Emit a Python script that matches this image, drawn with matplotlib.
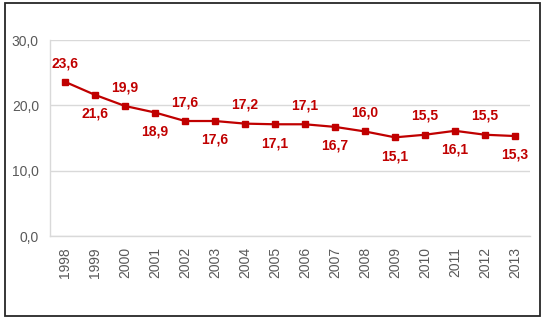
import matplotlib
matplotlib.use('Agg')
import matplotlib.pyplot as plt
from matplotlib.patches import Rectangle

years = ['1998', '1999', '2000', '2001', '2002', '2003', '2004', '2005',
         '2006', '2007', '2008', '2009', '2010', '2011', '2012', '2013']
values = [23.6, 21.6, 19.9, 18.9, 17.6, 17.6, 17.2, 17.1,
          17.1, 16.7, 16.0, 15.1, 15.5, 16.1, 15.5, 15.3]
y_ticks = [0, 10, 20, 30]

RED = '#C00000'
GREY = '#595959'
GRID = '#D9D9D9'

plt.rcParams['font.family'] = ['Liberation Sans', 'DejaVu Sans']

fig = plt.figure(figsize=(5.45, 3.22), dpi=100)
ax = fig.add_axes([50 / 545, 1 - 236 / 322, 480 / 545, 196 / 322])

x = list(range(len(years)))
ax.plot(x, values, color=RED, lw=1.6, marker='s', ms=4.8, zorder=3)

# подписи значений: чётные сверху, нечётные снизу
for i, v in enumerate(values):
    label = f'{v:.1f}'.replace('.', ',')
    dy = 13.5 if i % 2 == 0 else -13.5
    ax.annotate(label, (i, v), xytext=(0, dy), textcoords='offset points',
                ha='center', va='center', color=RED, fontsize=10,
                fontweight='bold')

ax.set_xlim(-0.5, len(years) - 0.5)
ax.set_ylim(0, 30)
ax.set_yticks(y_ticks)
ax.set_yticklabels([f'{t:.1f}'.replace('.', ',') for t in y_ticks])
ax.set_xticks(x)
ax.set_xticklabels(years, rotation=90)
ax.tick_params(length=0, colors=GREY, labelsize=10)
ax.tick_params(axis='y', pad=8)
ax.tick_params(axis='x', pad=8)
ax.grid(axis='y', color=GRID, lw=1)
ax.set_axisbelow(True)
for side in ['top', 'right']:
    ax.spines[side].set_visible(False)
for side in ['left', 'bottom']:
    ax.spines[side].set_color(GRID)
    ax.spines[side].set_linewidth(1)

fig.patches.append(Rectangle((5 / 545, 1 - 316 / 322), 535 / 545, 313 / 322,
                             transform=fig.transFigure, fill=False,
                             edgecolor='#262626', lw=1.3))

fig.savefig('out.png', dpi=100)
